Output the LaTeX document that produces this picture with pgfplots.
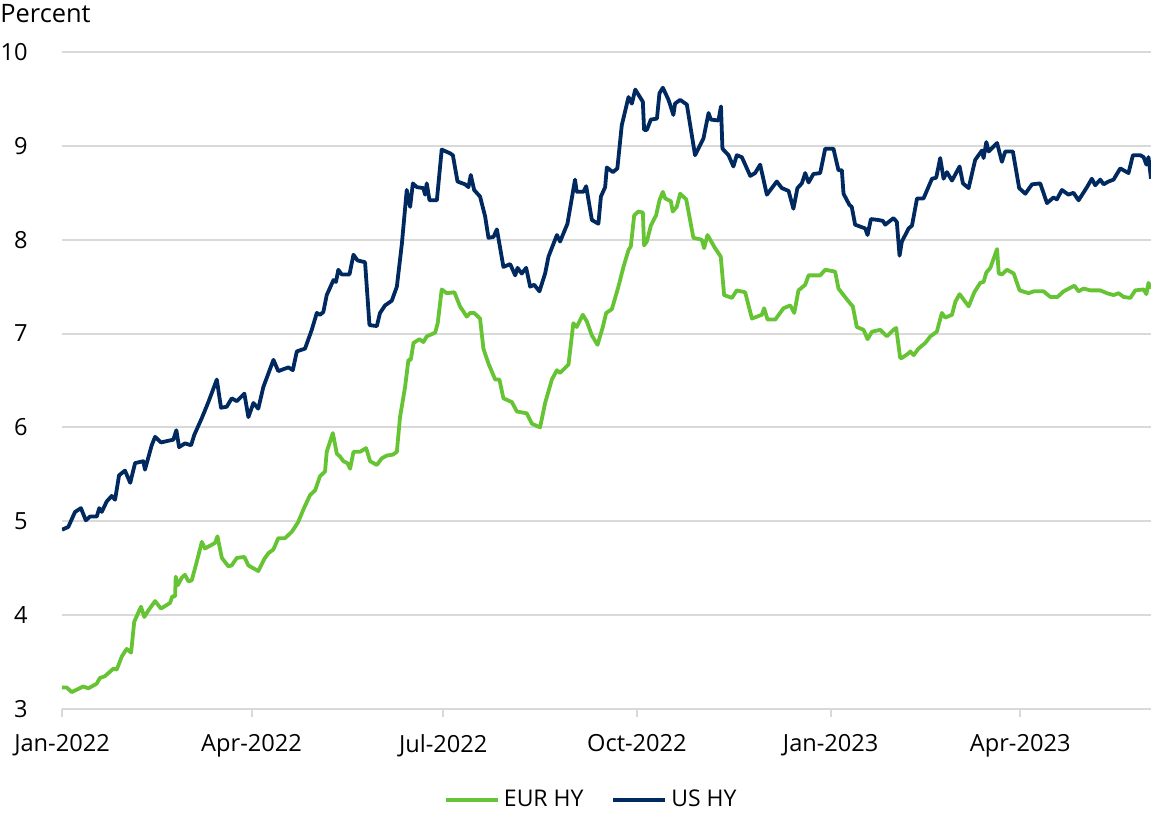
\documentclass[border=0pt]{standalone}
\usepackage{fontspec}
\setmainfont{Open Sans}
\usepackage{pgfplots}
\pgfplotsset{compat=1.18}
\definecolor{eurgreen}{RGB}{102,196,52}
\definecolor{usnavy}{RGB}{0,41,96}
\definecolor{gridgray}{RGB}{217,217,217}
\begin{document}
\fontsize{11.3}{13.5}\selectfont
\begin{tikzpicture}
\useasboundingbox (0,0) rectangle (575.5pt,407pt);
\node[anchor=west,inner sep=0pt,font=\fontsize{12.7}{15}\selectfont] at (0pt,400pt) {Percent};
\begin{axis}[
  at={(31pt,52.5pt)}, anchor=south west,
  scale only axis, width=544.5pt, height=328.5pt,
  xmin=0, xmax=517.1, ymin=3, ymax=10,
  axis x line=bottom, axis y line=left,
  x axis line style={-, draw=gridgray, line width=1pt},
  y axis line style={draw=none},
  ytick={3,4,5,6,7,8,9,10},
  ymajorgrids, grid style={gridgray, line width=1pt},
  xtick={0,90,181,273,365,455},
  xticklabels={Jan-2022,Apr-2022,Jul-2022,Oct-2022,Jan-2023,Apr-2023},
  ytick style={draw=none},
  xtick style={draw=gridgray, line width=1pt},
  tick align=outside, major tick length=4pt,
  /pgf/number format/assume math mode=true,
  tick label style={font=\fontsize{11.8}{14}\selectfont},
  yticklabel style={anchor=east, inner sep=0pt, xshift=-13pt},
  xticklabel style={anchor=north, inner sep=0pt, yshift=-8.5pt},
  legend style={at={(0.487,0)}, anchor=center, yshift=-45.5pt, draw=none,
    legend columns=2, font=\fontsize{11.5}{13.5}\selectfont,
    /tikz/every even column/.append style={column sep=12pt}},
  legend image code/.code={\draw[#1] (0pt,0pt) -- (26pt,0pt);},
]
\addplot[eurgreen, line width=1.9pt, line join=round] coordinates {
(0,3.23)(2.2,3.23)(4.6,3.18)(10.1,3.24)(12.5,3.22)(16.5,3.27)(18.0,3.33)(20.4,3.35)
(24.4,3.43)(26.0,3.42)(28.4,3.56)(30.7,3.64)(32.8,3.60)(34.3,3.93)(37.5,4.09)(39.1,3.98)
(41.0,4.05)(44.2,4.15)(47.0,4.07)(51.3,4.13)(52.4,4.20)(53.7,4.20)(54.0,4.41)(55.0,4.32)
(56.9,4.40)(58.4,4.43)(60.0,4.36)(61.6,4.37)(64.0,4.57)(66.4,4.78)(67.9,4.71)(72.7,4.77)
(73.8,4.84)(75.9,4.61)(79.0,4.52)(80.6,4.53)(83.0,4.61)(86.6,4.62)(88.5,4.53)(93.2,4.47)
(96.1,4.60)(98.0,4.66)(100.4,4.70)(102.7,4.82)(105.9,4.82)(109.2,4.89)(112.1,4.99)
(114.9,5.14)(117.8,5.28)(120.2,5.33)(122.5,5.48)(124.9,5.53)(125.7,5.74)(128.6,5.94)
(130.5,5.72)(132.0,5.69)(133.6,5.64)(135.5,5.62)(136.8,5.56)(138.4,5.74)(141.5,5.74)
(144.4,5.78)(146.3,5.64)(149.5,5.60)(151.8,5.67)(154.2,5.70)(157.1,5.71)(159.0,5.74)
(160.5,6.11)(162.9,6.43)(164.5,6.72)(165.6,6.72)(166.9,6.90)(169.7,6.94)(171.6,6.91)
(173.2,6.97)(177.2,7.01)(178.4,7.11)(180.3,7.47)(182.7,7.43)(186.3,7.44)(189.0,7.29)
(192.2,7.18)(193.8,7.22)(195.7,7.22)(198.5,7.16)(200.1,6.84)(202.5,6.68)(205.7,6.51)
(207.7,6.51)(209.6,6.31)(213.6,6.27)(216.0,6.17)(220.7,6.15)(223.1,6.04)(227.0,6.00)
(229.4,6.26)(232.6,6.51)(235.0,6.61)(236.5,6.58)(240.5,6.67)(242.8,7.11)(244.4,7.07)
(247.3,7.20)(249.2,7.13)(251.6,6.98)(254.3,6.88)(256.8,7.07)(258.4,7.22)(261.1,7.26)
(264.2,7.50)(266.6,7.71)(269.0,7.89)(270.1,7.93)(271.7,8.26)(273.7,8.30)(275.8,8.29)
(276.4,7.94)(277.7,7.98)(279.6,8.15)(282.1,8.26)(283.7,8.42)(285.3,8.51)(286.4,8.44)
(289.1,8.41)(290.0,8.30)(291.9,8.35)(293.5,8.49)(296.4,8.43)(299.8,8.02)(303.8,8.00)
(304.9,7.91)(306.5,8.05)(310.1,7.91)(312.8,7.82)(314.4,7.41)(318.1,7.38)(320.4,7.46)
(324.4,7.44)(327.6,7.16)(332.3,7.20)(333.4,7.27)(335.0,7.15)(338.7,7.15)(342.6,7.27)
(345.8,7.30)(347.7,7.22)(349.7,7.46)(352.9,7.52)(354.5,7.62)(360.0,7.62)(362.4,7.68)
(367.1,7.66)(368.7,7.48)(371.1,7.41)(374.3,7.32)(375.5,7.29)(377.4,7.07)(380.6,7.04)
(382.5,6.94)(384.6,7.02)(388.5,7.04)(391.7,6.97)(394.8,7.04)(396.1,7.06)(398.0,6.74)
(398.8,6.74)(402.0,6.79)(402.8,6.81)(404.4,6.77)(406.7,6.84)(409.9,6.90)(412.3,6.97)
(415.4,7.02)(417.8,7.22)(419.4,7.17)(422.6,7.20)(424.2,7.34)(426.2,7.42)(430.5,7.29)
(433.2,7.44)(436.0,7.54)(437.6,7.55)(438.9,7.65)(440.8,7.70)(444.0,7.90)(444.8,7.64)
(446.3,7.63)(448.7,7.68)(451.9,7.64)(454.7,7.46)(459.0,7.43)(461.4,7.45)(466.1,7.45)
(469.3,7.39)(472.7,7.39)(475.6,7.45)(480.7,7.51)(482.7,7.45)(485.1,7.48)(488.3,7.46)
(493.0,7.46)(496.2,7.43)(499.3,7.41)(501.7,7.43)(504.1,7.39)(507.3,7.38)(509.6,7.46)
(513.6,7.47)(514.9,7.42)(515.9,7.54)(517.1,7.48)
};
\addlegendentry{EUR HY}
\addplot[usnavy, line width=1.9pt, line join=round] coordinates {
(0,4.91)(3.0,4.94)(6.2,5.10)(9.0,5.14)(11.3,5.01)(13.3,5.05)(16.5,5.05)(17.7,5.14)
(18.9,5.10)(21.2,5.21)(23.6,5.27)(25.2,5.23)(27.1,5.49)(29.9,5.54)(32.4,5.41)(34.7,5.62)
(38.6,5.64)(39.4,5.55)(42.6,5.81)(44.2,5.90)(47.0,5.84)(52.9,5.87)(54.3,5.97)(55.6,5.79)
(58.4,5.83)(61.3,5.81)(62.8,5.92)(66.4,6.10)(69.5,6.27)(73.5,6.51)(75.5,6.21)(78.2,6.22)
(80.6,6.31)(83.0,6.28)(86.6,6.36)(88.5,6.11)(90.9,6.26)(93.2,6.20)(95.6,6.43)(100.4,6.72)
(102.7,6.60)(107.5,6.64)(109.6,6.61)(111.5,6.81)(115.4,6.84)(118.6,7.04)(121.0,7.22)
(122.5,7.20)(124.1,7.23)(125.7,7.41)(128.9,7.57)(130.1,7.55)(131.2,7.68)(132.8,7.63)
(136.5,7.63)(138.4,7.84)(140.3,7.78)(143.9,7.76)(146.0,7.09)(149.5,7.08)(151.0,7.22)
(153.4,7.30)(156.6,7.35)(159.0,7.50)(161.4,7.96)(163.7,8.53)(165.3,8.35)(166.6,8.60)
(168.5,8.56)(171.6,8.55)(172.4,8.48)(173.2,8.60)(174.5,8.42)(178.0,8.42)(180.3,8.96)
(184.3,8.92)(185.6,8.90)(187.8,8.62)(191.4,8.59)(193.0,8.56)(194.1,8.69)(195.7,8.53)
(198.5,8.46)(200.9,8.25)(202.5,8.02)(204.9,8.03)(206.5,8.11)(209.6,7.71)(212.8,7.74)
(215.2,7.62)(216.3,7.70)(218.3,7.64)(220.4,7.70)(222.3,7.50)(224.2,7.52)(226.7,7.45)
(229.4,7.64)(231.0,7.82)(235.0,8.05)(236.5,7.98)(240.0,8.17)(243.6,8.64)(244.4,8.51)
(247.6,8.51)(248.9,8.57)(251.6,8.21)(254.7,8.17)(255.9,8.46)(257.9,8.56)(258.7,8.77)
(261.6,8.72)(263.7,8.76)(265.8,9.22)(269.0,9.52)(270.6,9.45)(272.2,9.60)(275.8,9.47)
(276.4,9.17)(277.7,9.17)(279.6,9.28)(282.5,9.29)(283.7,9.56)(285.3,9.62)(288.0,9.49)
(290.3,9.33)(291.1,9.45)(293.5,9.49)(296.7,9.44)(300.6,8.90)(304.6,9.08)(307.0,9.35)
(308.1,9.28)(311.7,9.27)(312.9,9.42)(313.6,8.97)(316.5,8.90)(318.8,8.78)(320.4,8.90)
(322.8,8.88)(326.8,8.68)(329.1,8.71)(331.5,8.80)(334.7,8.48)(339.4,8.62)(341.8,8.55)
(345.0,8.52)(347.3,8.33)(349.2,8.55)(351.3,8.60)(352.9,8.71)(354.5,8.61)(356.8,8.70)
(360.0,8.71)(362.4,8.97)(366.3,8.97)(368.7,8.74)(370.3,8.74)(371.1,8.49)(373.9,8.37)
(375.0,8.35)(376.6,8.16)(381.4,8.12)(382.5,8.05)(384.1,8.22)(387.7,8.21)(389.8,8.20)
(390.9,8.16)(394.8,8.23)(396.4,8.19)(397.7,7.83)(398.8,7.98)(402.0,8.12)(403.6,8.15)
(406.0,8.44)(409.1,8.44)(413.1,8.65)(415.1,8.66)(417.0,8.87)(418.6,8.65)(420.2,8.72)
(422.6,8.63)(426.2,8.78)(427.8,8.60)(430.5,8.55)(433.6,8.85)(436.8,8.95)(437.6,8.87)
(438.9,9.04)(440.0,8.94)(444.0,9.03)(446.3,8.83)(447.9,8.94)(451.5,8.94)(454.5,8.55)
(457.4,8.49)(460.6,8.59)(464.5,8.60)(467.7,8.39)(470.8,8.45)(472.4,8.43)(474.8,8.53)
(477.9,8.48)(480.3,8.50)(482.7,8.42)(486.7,8.56)(489.0,8.65)(490.6,8.58)(493.0,8.64)
(494.6,8.59)(496.9,8.62)(499.3,8.64)(502.5,8.76)(506.4,8.71)(508.5,8.90)(512.0,8.90)
(513.6,8.88)(514.9,8.80)(515.9,8.88)(517.1,8.65)
};
\addlegendentry{US HY}
\end{axis}
\end{tikzpicture}
\end{document}
